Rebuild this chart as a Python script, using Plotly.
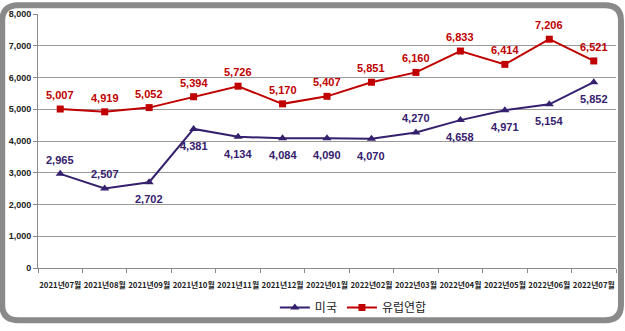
import plotly.graph_objects as go

months = ["2021년07월", "2021년08월", "2021년09월", "2021년10월", "2021년11월", "2021년12월",
          "2022년01월", "2022년02월", "2022년03월", "2022년04월", "2022년05월", "2022년06월", "2022년07월"]
usa = [2965, 2507, 2702, 4381, 4134, 4084, 4090, 4070, 4270, 4658, 4971, 5154, 5852]
eu = [5007, 4919, 5052, 5394, 5726, 5170, 5407, 5851, 6160, 6833, 6414, 7206, 6521]
# +1 = label above the point, -1 = below
usa_label_side = [1, 1, -1, -1, -1, -1, -1, -1, 1, -1, -1, -1, -1]
eu_label_side = [1] * len(eu)
y_ticks = [0, 1000, 2000, 3000, 4000, 5000, 6000, 7000, 8000]

W, H = 625, 331
L, R, T, B = 35, 9, 10, 58
pw, ph = W - L - R, H - T - B

US_COLOR = "#35206e"
EU_COLOR = "#c00000"

fig = go.Figure()
fig.add_trace(go.Scatter(
    x=months, y=usa, name="미국", mode="lines+markers",
    line=dict(color=US_COLOR, width=2),
    marker=dict(symbol="triangle-up", size=8, color=US_COLOR),
))
fig.add_trace(go.Scatter(
    x=months, y=eu, name="유럽연합", mode="lines+markers",
    line=dict(color=EU_COLOR, width=2),
    marker=dict(symbol="square", size=7, color=EU_COLOR),
))

annotations = []
for vals, sides, color in ((usa, usa_label_side, US_COLOR), (eu, eu_label_side, EU_COLOR)):
    for m, v, s in zip(months, vals, sides):
        annotations.append(dict(
            x=m, y=v, xref="x", yref="y", text=f"{v:,}", showarrow=False,
            yshift=13 * s + (1 if s > 0 else -4),
            font=dict(family="Liberation Sans", size=11, color=color, weight="bold"),
        ))


def px_x(v):
    return (v - L) / pw


def px_y(v):
    return (H - B - v) / ph


# rounded outer frame drawn in pixel terms, converted to paper space
x0, y0, x1, y1, r = -1, 1, 621, 327, 16
pts = [
    ("M", x0 + r, y0), ("L", x1 - r, y0), ("Q", x1, y0, x1, y0 + r),
    ("L", x1, y1 - r), ("Q", x1, y1, x1 - r, y1), ("L", x0 + r, y1),
    ("Q", x0, y1, x0, y1 - r), ("L", x0, y0 + r), ("Q", x0, y0, x0 + r, y0),
]
path = ""
for p in pts:
    cmd, coords = p[0], p[1:]
    xy = []
    for i in range(0, len(coords), 2):
        xy.append(f"{px_x(coords[i]):.5f},{px_y(coords[i + 1]):.5f}")
    path += cmd + " ".join(xy)
path += " Z"

fig.update_layout(
    width=W, height=H,
    margin=dict(l=L, r=R, t=T, b=B),
    paper_bgcolor="white", plot_bgcolor="white",
    showlegend=True,
    legend=dict(orientation="h", x=px_x(352), xanchor="center", y=px_y(314), yanchor="middle",
                font=dict(family="Noto Sans CJK KR", size=12, color="#222"),
                itemwidth=30, tracegroupgap=0, bgcolor="rgba(0,0,0,0)"),
    shapes=[dict(type="path", xref="paper", yref="paper", path=path,
                 line=dict(color="#8a8a8a", width=6), layer="above")],
    annotations=annotations,
    font=dict(family="Liberation Sans"),
)
fig.update_xaxes(
    type="category", showgrid=False, showline=True, linecolor="#8a8a8a", linewidth=1,
    ticks="outside", tickson="boundaries", ticklen=4, tickcolor="#8a8a8a",
    tickfont=dict(family="Noto Sans CJK KR", size=7.8, color="#222", weight="bold"),
    ticklabelstandoff=10,
    tickangle=0, range=[-0.5, len(months) - 0.5],
)
fig.update_yaxes(
    range=[0, 8000], tickvals=y_ticks, ticktext=[f"{v:,}" for v in y_ticks],
    showgrid=True, gridcolor="#9a9a9a", gridwidth=1,
    showline=True, linecolor="#8a8a8a", linewidth=1,
    ticks="outside", ticklen=4, tickcolor="#8a8a8a",
    tickfont=dict(family="Liberation Sans", size=9, color="#222", weight="bold"),
    zeroline=False,
)

fig.write_html("out.html")
